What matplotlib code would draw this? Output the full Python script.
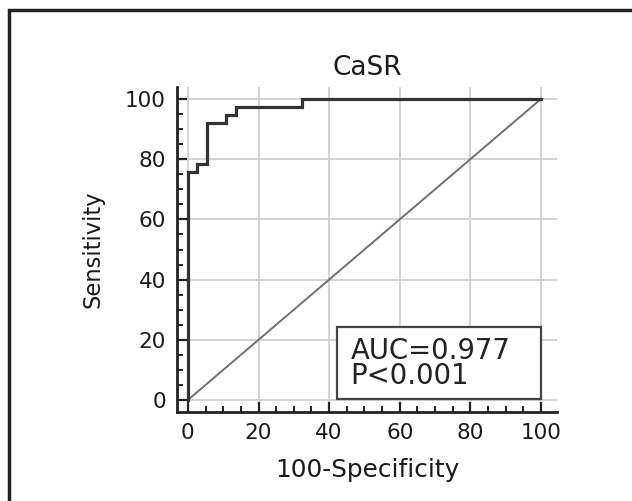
import matplotlib
matplotlib.use("Agg")
import matplotlib.pyplot as plt
from matplotlib.patches import Rectangle
from matplotlib.ticker import MultipleLocator

# ROC curve data (100-Specificity, Sensitivity)
fpr = [0, 0, 2.7, 2.7, 5.4, 5.4, 10.8, 10.8, 13.5, 13.5, 32.4, 32.4, 100]
tpr = [0, 75.7, 75.7, 78.4, 78.4, 91.9, 91.9, 94.6, 94.6, 97.3, 97.3, 100, 100]
diag_x = [0, 100]
diag_y = [0, 100]
ticks = [0, 20, 40, 60, 80, 100]
title = "CaSR"
xlabel = "100-Specificity"
ylabel = "Sensitivity"
annot = "AUC=0.977\nP<0.001"

plt.rcParams['font.family'] = ['DejaVu Sans']

fig = plt.figure(figsize=(6.32, 5.01), dpi=100)
ax = fig.add_axes([0.280, 0.1776, 0.601, 0.6487])

ax.set_xlim(-3.1, 104.5)
ax.set_ylim(-4, 104)

ax.grid(True, color='#cccccc', lw=1.2, zorder=0)
ax.set_axisbelow(True)

ax.plot(diag_x, diag_y, color='#707070', lw=1.4, zorder=2)
ax.plot(fpr, tpr, color='#333333', lw=2.3, zorder=3, solid_joinstyle='miter')

ax.set_xticks(ticks)
ax.set_yticks(ticks)
ax.xaxis.set_minor_locator(MultipleLocator(5))
ax.yaxis.set_minor_locator(MultipleLocator(5))
ax.tick_params(which='major', direction='in', length=7, width=1.6, color='#222222',
               labelsize=15.5, labelcolor='#1a1a1a', pad=8)
ax.tick_params(which='minor', direction='in', length=4, width=1.4, color='#222222')

for s in ['top', 'right']:
    ax.spines[s].set_visible(False)
for s in ['left', 'bottom']:
    ax.spines[s].set_linewidth(2.0)
    ax.spines[s].set_color('#222222')

ax.set_title(title, fontsize=19, color='#1a1a1a', pad=9)
ax.set_xlabel(xlabel, fontsize=17.8, color='#1a1a1a', labelpad=11)
ax.set_ylabel(ylabel, fontsize=16.3, color='#1a1a1a', labelpad=15)

# annotation box
ax.add_patch(Rectangle((42.3, 0.3), 57.7, 24.0, facecolor='white', edgecolor='#444444',
                       lw=1.6, zorder=4))
ax.text(46.0, 12.1, annot, fontsize=19.8, color='#222222', va='center', ha='left',
        linespacing=0.9, zorder=5)

# outer frame
fig.patches.append(Rectangle((9 / 632, -0.1), 1.2, 1 - 10 / 501 + 0.1,
                             transform=fig.transFigure, facecolor='none',
                             edgecolor='#222222', lw=2.5))

fig.savefig("out.png", dpi=100)
